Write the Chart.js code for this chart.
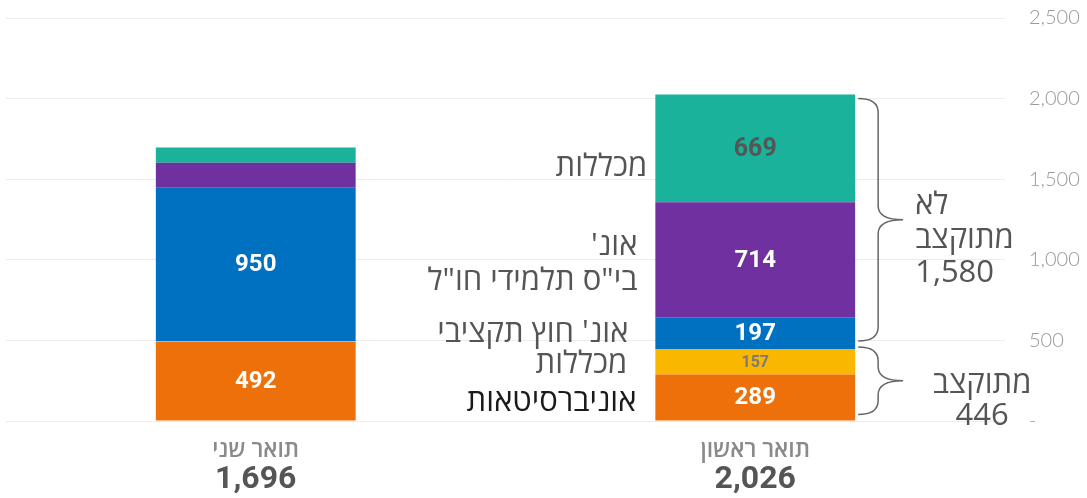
<!DOCTYPE html>
<html lang="he">
<head>
<meta charset="utf-8">
<script src="https://cdn.jsdelivr.net/npm/chart.js@4/dist/chart.umd.min.js"></script>
<style>
  html, body { margin: 0; padding: 0; background: #fff; }
  #chart { display: block; }
</style>
</head>
<body>
<canvas id="chart" width="1087" height="498"></canvas>
<script>
// data, bottom segment first
const degrees = ["תואר ראשון", "תואר שני"];
const seriesNames = [["אוניברסיטאות"], ["מכללות"], ["אונ' חוץ תקציבי"], ["אונ'", "בי\"ס תלמידי חו\"ל"], ["מכללות"]];
const fundedUniversities = [289, 492];
const fundedColleges = [157, 5];
const unfundedUniversities = [197, 950];
const overseasSchool = [714, 155];
const unfundedColleges = [669, 94];
const showValue = [[true, true], [true, false], [true, true], [true, false], [true, false]];
const groupTitles = [["לא", "מתוקצב"], ["מתוקצב"]];
const yTicks = [0, 500, 1000, 1500, 2000, 2500];

const seriesData = [fundedUniversities, fundedColleges, unfundedUniversities, overseasSchool, unfundedColleges];
const colors = ["#ED700A", "#F9B700", "#0070C0", "#7030A0", "#1BB29C"];
const valueColors = ["#fff", "#7a7a7a", "#fff", "#fff", "#555"];
const valueSizes = [24, 16, 24, 24, 25];
const nameColors = ["#1a1a1a", "#555", "#555", "#555", "#555"];
const nameGap = [19, 28, 27, 18, 8];
const nameDy = [5, 2, 0, 4, 19];

const hebFont = "'Open Sans', 'Liberation Sans', 'DejaVu Sans', sans-serif";
const fmt = v => v.toLocaleString("en-US");

function drawBrace(ctx, x0, top, bottom) {
  const xv = x0 + 20, tip = x0 + 45, mid = (top + bottom) / 2, r = 14;
  ctx.beginPath();
  ctx.moveTo(x0, top);
  ctx.quadraticCurveTo(xv, top, xv, top + r);
  ctx.lineTo(xv, mid - r);
  ctx.quadraticCurveTo(xv, mid, tip, mid);
  ctx.quadraticCurveTo(xv, mid, xv, mid + r);
  ctx.lineTo(xv, bottom - r);
  ctx.quadraticCurveTo(xv, bottom, x0, bottom);
  ctx.stroke();
  return { tip, mid };
}

const overlay = {
  id: "overlay",
  afterDatasetsDraw(chart) {
    const ctx = chart.ctx;
    ctx.save();
    ctx.textBaseline = "middle";

    // values inside the segments
    chart.data.datasets.forEach((ds, i) => {
      chart.getDatasetMeta(i).data.forEach((bar, j) => {
        if (!showValue[i][j]) return;
        ctx.direction = "ltr";
        ctx.textAlign = "center";
        ctx.font = `700 ${valueSizes[i]}px Roboto`;
        ctx.fillStyle = valueColors[i];
        ctx.fillText(fmt(ds.data[j]), bar.x, (bar.y + bar.base) / 2 + 1);
      });
    });

    // series names next to the first-degree bar
    ctx.direction = "rtl";
    ctx.textAlign = "right";
    ctx.font = `400 31px ${hebFont}`;
    seriesNames.forEach((lines, i) => {
      const bar = chart.getDatasetMeta(i).data[0];
      const x = bar.x - bar.width / 2 - nameGap[i];
      const cy = (bar.y + bar.base) / 2 + nameDy[i];
      ctx.fillStyle = nameColors[i];
      lines.forEach((t, k) => {
        ctx.fillText(t, x, cy + (k - (lines.length - 1) / 2) * 35);
      });
    });

    // braces: unfunded (series 2..4), funded (series 0..1)
    const m = i => chart.getDatasetMeta(i).data[0];
    const x0 = m(0).x + m(0).width / 2 + 3;
    ctx.strokeStyle = "#666";
    ctx.lineWidth = 1.5;
    const up = drawBrace(ctx, x0, m(4).y + 4, m(2).base - 8);
    const low = drawBrace(ctx, x0, m(1).y - 2, m(0).base - 6);

    const unfundedSum = unfundedUniversities[0] + overseasSchool[0] + unfundedColleges[0];
    const fundedSum = fundedUniversities[0] + fundedColleges[0];
    ctx.fillStyle = "#555";
    ctx.font = `400 31px ${hebFont}`;
    ctx.textAlign = "left";
    const upLines = [...groupTitles[0], fmt(unfundedSum)];
    upLines.forEach((t, k) => {
      ctx.direction = k < 2 ? "rtl" : "ltr";
      ctx.fillText(t, up.tip + 12, up.mid - 15 + k * 34);
    });
    ctx.textAlign = "center";
    const lowLines = [...groupTitles[1], fmt(fundedSum)];
    lowLines.forEach((t, k) => {
      ctx.direction = k < 1 ? "rtl" : "ltr";
      ctx.fillText(t, low.tip + 79, low.mid + 3 + k * 32);
    });

    // category labels with totals
    const xs = chart.scales.x;
    degrees.forEach((d, j) => {
      const x = xs.getPixelForValue(j);
      const total = seriesData.reduce((s, arr) => s + arr[j], 0);
      ctx.textAlign = "center";
      ctx.direction = "rtl";
      ctx.fillStyle = "#8a8a8a";
      ctx.font = `600 23px ${hebFont}`;
      ctx.fillText(d, x, xs.top + 29);
      ctx.direction = "ltr";
      ctx.fillStyle = "#555";
      ctx.font = "700 32px Roboto";
      ctx.fillText(fmt(total), x, xs.top + 59);
    });
    ctx.restore();
  }
};

new Chart(document.getElementById("chart"), {
  type: "bar",
  data: {
    labels: degrees,
    datasets: seriesData.map((arr, i) => ({
      label: seriesNames[i].join(" "),
      data: arr,
      backgroundColor: colors[i],
      borderWidth: 0,
      barPercentage: 0.4,
      categoryPercentage: 1
    }))
  },
  options: {
    responsive: false,
    animation: false,
    devicePixelRatio: 1,
    layout: { padding: { left: 6, top: 0, right: 0, bottom: 0 } },
    plugins: { legend: { display: false }, tooltip: { enabled: false } },
    scales: {
      x: {
        stacked: true,
        reverse: true,
        grid: { display: false },
        border: { display: false },
        ticks: { display: false },
        afterFit: s => { s.height = 77; }
      },
      y: {
        stacked: true,
        position: "right",
        min: 0,
        max: 2500,
        afterBuildTicks: s => { s.ticks = yTicks.map(v => ({ value: v })); },
        grid: { color: "#ececec", drawTicks: false },
        border: { display: false },
        ticks: {
          padding: 24,
          color: "#999",
          font: { family: "Lato", size: 20, weight: "300" },
          callback: v => v === 0 ? "-" : fmt(v)
        },
        afterFit: s => { s.width = 82; s.paddingTop = 18; s.paddingBottom = 0; }
      }
    }
  },
  plugins: [overlay]
});
</script>
</body>
</html>
